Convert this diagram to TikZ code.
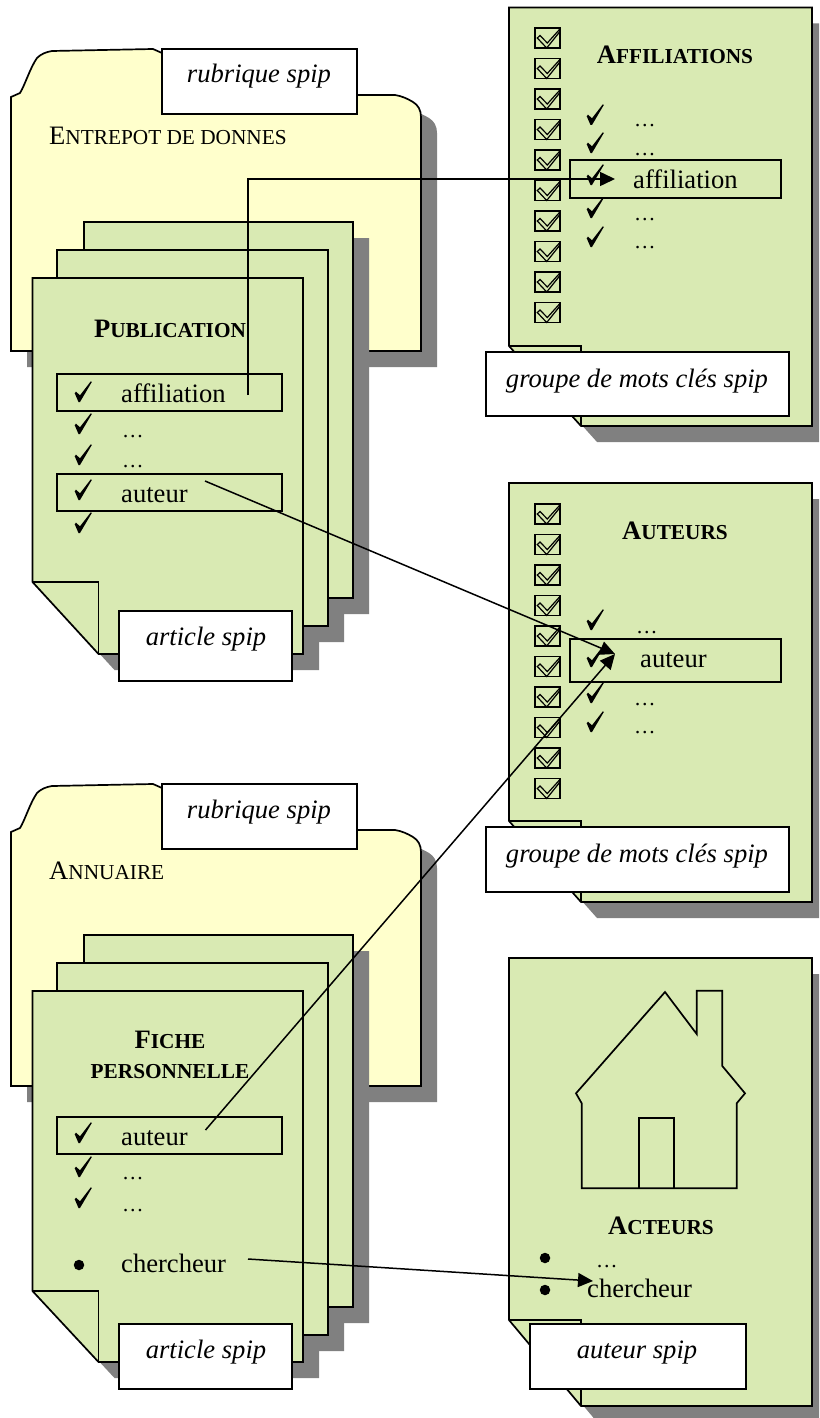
\documentclass[tikz,border=0pt]{standalone}
\usepackage{fontspec}
\setmainfont{Liberation Serif}
\usetikzlibrary{arrows.meta}
\definecolor{pagegreen}{HTML}{D9EAB3}
\definecolor{foldyellow}{HTML}{FFFFCC}
\definecolor{shadowgray}{HTML}{808080}
\tikzset{
	txt/.style = {inner sep=0pt, anchor=base west, font=\fontsize{26.6}{30}\selectfont},
	txtc/.style = {txt, anchor=base},
	dots/.style = {txt, font=\fontsize{21.5}{24}\selectfont},
	line/.style = {line width=1.7pt, line join=miter},
	pagefill/.style = {line, draw=black, fill=pagegreen},
	whitebox/.style = {line, draw=black, fill=white},
	hilite/.style = {line width=2pt, draw=black},
	shadow/.style = {fill=shadowgray, draw=none},
	link/.style = {line width=1.5pt, -{Triangle[length=15pt,width=14pt]}},
	dotmark/.style = {circle, fill=black, draw=none, inner sep=0pt, minimum size=10.5pt},
	chkbox/.pic = {
		\draw[line] (0,0) rectangle (25,20);
		\draw[line width=1.2pt] (2.3,10) -- (5,7.5) -- (12.3,15) -- (24.3,1.7) -- (25,3.5) -- (11.7,20) -- cycle;
	},
	tickmark/.pic = {
		\fill (-8.3,1.2) -- (-7,-0.3) -- (-3,3.3) -- (7.8,-10.7) -- (8.8,-10) -- (-3,10) -- (-4.5,10) -- cycle;
	}
}
% small capitals by hand: big first letter, then the rest
\newcommand{\fsc}[2]{#1{\fontsize{21.3}{24}\selectfont #2}}
% page with a folded corner: left, top, right, bottom, fold x, fold y
\newcommand{\foldshadow}[6]{\fill[shadow] (#1+16,#2+16) -- (#3+16,#2+16) -- (#3+16,#4+16) -- (#5+16,#4+16) -- (#1+16,#6+16) -- cycle;}
\newcommand{\foldpage}[6]{
	\draw[pagefill] (#1,#2) -- (#3,#2) -- (#3,#4) -- (#5,#4) -- (#1,#6) -- cycle;
	\draw[line] (#1,#6) -- (#5,#6) -- (#5,#4);
}
\newcommand{\folderpath}{(11,351) -- (11,97) .. controls (14,95) and (17,95) .. (20,93) .. controls (25,85) and (30,68) .. (37,58) .. controls (41,54) and (46,52) .. (52,51) -- (153,49) -- (162,53) -- (162,95) -- (395,95) .. controls (402,96) and (408,99) .. (413,102) .. controls (418,105) and (421,110) .. (421,117) -- (421,351) -- cycle}

\begin{document}
\begin{tikzpicture}[x=1pt, y=-1pt]
	\path[use as bounding box, clip] (0,0) rectangle (819,1418);
	\fill[white] (0,0) rectangle (819,1418);

	%upper folder
	\fill[shadow, shift={(16,16)}] \folderpath;
	\draw[line, fill=foldyellow] \folderpath;
	\draw[whitebox] (162,49) rectangle (357,114);
	\node[txtc] (rubone) at (259,83) {\textit{rubrique spip}};
	\node[txt] (entrepot) at (49,145) {\fsc{E}{NTREPOT DE DONNES}};
	%upper stack of sheets
	\foldshadow{84}{222}{353}{598}{150}{526}
	\foldshadow{57}{250}{328}{626}{123}{554}
	\foldshadow{32.5}{278}{303}{654}{98.5}{582}
	\foldpage{84}{222}{353}{598}{150}{526}
	\foldpage{57}{250}{328}{626}{123}{554}
	\foldpage{32.5}{278}{303}{654}{98.5}{582}
	\node[txtc] (publi) at (170,337) {\textbf{\fsc{P}{UBLICATION}}};
	\draw[hilite] (57,374) rectangle (282,411);
	\draw[hilite] (57,474) rectangle (282,511);
	\foreach \y in {392,424,455,490,523}
		\pic at (83,\y) {tickmark};
	\node[txt] (pubaffil) at (121,402) {affiliation};
	\node[dots] (pubdotsa) at (122,437) {…};
	\node[dots] (pubdotsb) at (122,467) {…};
	\node[txt] (pubauteur) at (121,502) {auteur};
	\draw[whitebox] (119,611) rectangle (292,681);
	\node[txtc] (artone) at (206,645) {\textit{article spip}};

	%lower folder
	\begin{scope}[shift={(0,735)}]
		\fill[shadow, shift={(16,16)}] \folderpath;
		\draw[line, fill=foldyellow] \folderpath;
		\draw[whitebox] (162,49) rectangle (357,114);
	\end{scope}
	\node[txtc] (rubtwo) at (259,818) {\textit{rubrique spip}};
	\node[txt] (annuaire) at (49,879) {\fsc{A}{NNUAIRE}};
	%lower stack of sheets
	\foldshadow{84}{935}{353}{1307}{150}{1236}
	\foldshadow{57}{963}{328}{1335}{123}{1264}
	\foldshadow{32.5}{991}{303}{1362}{98.5}{1291}
	\foldpage{84}{935}{353}{1307}{150}{1236}
	\foldpage{57}{963}{328}{1335}{123}{1264}
	\foldpage{32.5}{991}{303}{1362}{98.5}{1291}
	\node[txtc] (fiche) at (170,1048) {\textbf{\fsc{F}{ICHE}}};
	\node[txtc] (perso) at (170,1078) {\textbf{\fontsize{21.3}{24}\selectfont PERSONNELLE}};
	\draw[hilite] (57,1117) rectangle (282,1154);
	\foreach \y in {1133,1167,1198}
		\pic at (83,\y) {tickmark};
	\node[txt] (ficauteur) at (121,1145) {auteur};
	\node[dots] (ficdotsa) at (122,1179) {…};
	\node[dots] (ficdotsb) at (122,1211) {…};
	\node[dotmark] (ficdot) at (79,1265) {};
	\node[txt] (ficcherch) at (121,1272) {chercheur};
	\draw[whitebox] (119,1324) rectangle (292,1389);
	\node[txtc] (arttwo) at (206,1358) {\textit{article spip}};

	%affiliations sheet
	\foldshadow{509}{7.5}{812}{426}{581}{346}
	\foldpage{509}{7.5}{812}{426}{581}{346}
	\foreach \y in {28,58.5,89,119.5,150,180.5,211,241.5,272,302.5}
		\pic at (535,\y) {chkbox};
	\node[txtc] (affiltitle) at (675,64) {\textbf{\fsc{A}{FFILIATIONS}}};
	\foreach \y in {115,143,175,208,237}
		\pic at (595,\y) {tickmark};
	\node[dots] (afdotsa) at (634,127) {…};
	\node[dots] (afdotsb) at (634,155) {…};
	\node[dots] (afdotsc) at (634,220) {…};
	\node[dots] (afdotsd) at (634,248) {…};
	\draw[hilite] (570,160) rectangle (781,198);
	\node[txt] (afaffil) at (633,188) {affiliation};
	\draw[whitebox] (486,352) rectangle (789,416);
	\node[txtc] (grpone) at (637,387) {\textit{groupe de mots clés spip}};

	%auteurs sheet
	\foldshadow{509}{483}{812}{902}{581}{821}
	\foldpage{509}{483}{812}{902}{581}{821}
	\foreach \y in {504,534.5,565,595.5,626,656.5,687,717.5,748,778.5}
		\pic at (535,\y) {chkbox};
	\node[txtc] (auttitle) at (675,539) {\textbf{\fsc{A}{UTEURS}}};
	\foreach \y in {620,657,693,722}
		\pic at (595,\y) {tickmark};
	\node[dots] (audotsa) at (636,633) {…};
	\node[dots] (audotsb) at (634,705) {…};
	\node[dots] (audotsc) at (634,733) {…};
	\draw[hilite] (570,639) rectangle (781,682);
	\node[txt] (auauteur) at (640,667) {auteur};
	\draw[whitebox] (486,827) rectangle (789,892);
	\node[txtc] (grptwo) at (637,862) {\textit{groupe de mots clés spip}};

	%acteurs sheet with the house
	\foldshadow{509}{958}{812}{1406}{581}{1320}
	\foldpage{509}{958}{812}{1406}{581}{1320}
	\draw[line] (665,992) -- (696.7,1034) -- (696.7,990.7) -- (722.3,990.7) -- (722.3,1066) -- (745,1093.3) -- (736.7,1103.3) -- (736.7,1188.3) -- (581.7,1188.3) -- (581.7,1103.3) -- (576,1093.3) -- cycle;
	\draw[line] (639.3,1188.3) -- (639.3,1118.3) -- (674,1118.3) -- (674,1188.3);
	\node[txtc] (acttitle) at (661,1234) {\textbf{\fsc{A}{CTEURS}}};
	\node[dotmark] (acdota) at (545,1258) {};
	\node[dotmark] (acdotb) at (545,1290) {};
	\node[dots] (acdots) at (596,1267) {…};
	\node[txt] (accherch) at (587,1297) {chercheur};
	\draw[whitebox] (530,1324) rectangle (746,1389);
	\node[txtc] (autspip) at (637,1358) {\textit{auteur spip}};

	%links between the sheets
	\coordinate (fromaffil) at (248,395);
	\coordinate (toaffil) at (615,179);
	\coordinate (frompub) at (205,481);
	\coordinate (toauteur) at (615,654);
	\coordinate (fromfic) at (205.5,1130);
	\coordinate (fromcherch) at (248,1259);
	\coordinate (toacteur) at (593,1281);
	\draw[link] (fromaffil) |- (toaffil);
	\draw[link] (frompub) -- (toauteur);
	\draw[link] (fromfic) -- (toauteur);
	\draw[link] (fromcherch) -- (toacteur);
\end{tikzpicture}
\end{document}
